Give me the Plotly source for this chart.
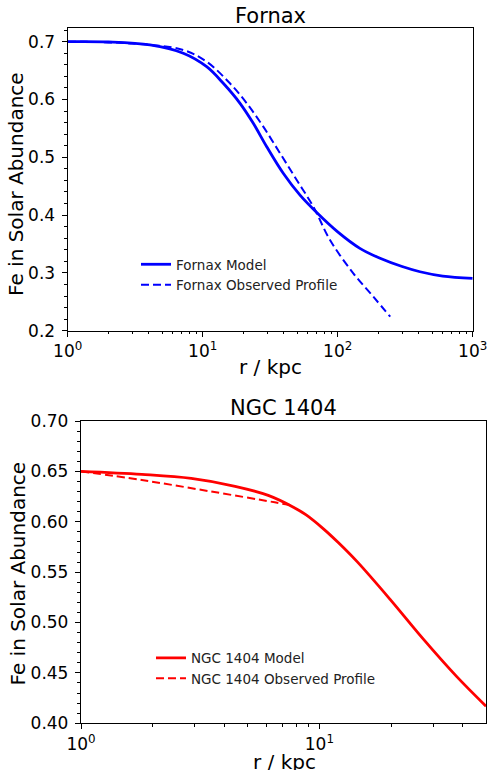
import plotly.graph_objects as go
import numpy as np

# ---- data ----
fornax_model_r = [1, 2, 4.07, 7.18, 10.7, 14.2, 18.9, 23.7, 29.8, 39.5, 52.6, 69.9, 100, 146, 206, 300, 407, 600, 1000]
fornax_model_v = [0.700, 0.6995, 0.6943, 0.680, 0.6567, 0.628, 0.5934, 0.5588, 0.5183, 0.4723, 0.4345, 0.4045, 0.371, 0.3425, 0.3253, 0.311, 0.302, 0.2945, 0.2906]

fornax_obs_r = [1, 3, 7.18, 10.7, 15.9, 21.2, 28.1, 37.4, 49.7, 66, 87.7, 130.5, 183.6, 245]
fornax_obs_v = [0.700, 0.697, 0.6856, 0.6654, 0.628, 0.5934, 0.553, 0.507, 0.4607, 0.4145, 0.3569, 0.2993, 0.2588, 0.2242]

ngc_model_r = [1, 1.8, 2.9, 4.43, 6.1, 7.78, 8.8, 10.4, 12, 14.4, 19.8, 27.3, 37.7, 50]
ngc_model_v = [0.650, 0.647, 0.643, 0.6352, 0.6262, 0.6145, 0.6068, 0.593, 0.5794, 0.5604, 0.523, 0.4835, 0.4463, 0.417]

ngc_obs_r = [1, 1.8, 3.42, 6.5, 7.78]
ngc_obs_v = [0.650, 0.6414, 0.6305, 0.6193, 0.616]

top_xticks = [1, 10, 100, 1000]
top_xtext = ["10<sup>0</sup>", "10<sup>1</sup>", "10<sup>2</sup>", "10<sup>3</sup>"]
bot_xticks = [1, 10]
bot_xtext = ["10<sup>0</sup>", "10<sup>1</sup>"]

W, H = 488, 770
FONT = "DejaVu Sans"
BLUE = "#0000ff"
RED = "#ff0000"

fig = go.Figure()
fig.add_trace(go.Scatter(x=fornax_model_r, y=fornax_model_v, mode="lines", line=dict(color=BLUE, width=2.8, shape="spline", smoothing=1.0),
                         name="Fornax Model", xaxis="x", yaxis="y", legend="legend"))
fig.add_trace(go.Scatter(x=fornax_obs_r, y=fornax_obs_v, mode="lines", line=dict(color=BLUE, width=2, dash="8px,4px", shape="spline", smoothing=1.0),
                         name="Fornax Observed Profile", xaxis="x", yaxis="y", legend="legend"))
fig.add_trace(go.Scatter(x=ngc_model_r, y=ngc_model_v, mode="lines", line=dict(color=RED, width=2.8, shape="spline", smoothing=1.0),
                         name="NGC 1404 Model", xaxis="x2", yaxis="y2", legend="legend2"))
fig.add_trace(go.Scatter(x=ngc_obs_r, y=ngc_obs_v, mode="lines", line=dict(color=RED, width=2, dash="8px,4px", shape="spline", smoothing=1.0),
                         name="NGC 1404 Observed Profile", xaxis="x2", yaxis="y2", legend="legend2"))

def px_x(p):
    return p / W

def px_y(p):
    return 1 - p / H

minor_log = [v * 10 ** d for d in range(0, 3) for v in range(2, 10)]

axis_common = dict(showline=True, linecolor="black", linewidth=1.3, mirror=True, ticks="outside",
                   ticklen=5, tickwidth=1.2, tickcolor="black", showgrid=False, zeroline=False,
                   automargin=False, tickfont=dict(family=FONT, size=17, color="black"))

fig.update_layout(
    width=W, height=H, margin=dict(l=0, r=0, t=0, b=0, autoexpand=False),
    paper_bgcolor="white", plot_bgcolor="white",
    font=dict(family=FONT, color="black"),
    xaxis=dict(type="log", domain=[px_x(67.7), px_x(472.7)], range=[0, 3], anchor="y",
               tickvals=top_xticks, ticktext=top_xtext,
               minor=dict(tickvals=minor_log, ticks="outside", ticklen=2.5, tickwidth=1, tickcolor="black"),
               **axis_common),
    yaxis=dict(domain=[px_y(330.7), px_y(28)], range=[0.2, 0.7237], anchor="x",
               tick0=0.2, dtick=0.1, tickformat=".1f", ticklabelstandoff=3,
               minor=dict(dtick=0.02, tick0=0.2, ticks="outside", ticklen=2.5, tickwidth=1, tickcolor="black"),
               **axis_common),
    xaxis2=dict(type="log", domain=[px_x(81), px_x(486)], range=[0, np.log10(50)], anchor="y2",
                tickvals=bot_xticks, ticktext=bot_xtext,
                minor=dict(tickvals=[v for v in minor_log if v < 50], ticks="outside", ticklen=2.5, tickwidth=1, tickcolor="black"),
                **axis_common),
    yaxis2=dict(domain=[px_y(723.3), px_y(421)], range=[0.40, 0.70], anchor="x2",
                tick0=0.4, dtick=0.05, tickformat=".2f", ticklabelstandoff=3,
                minor=dict(dtick=0.01, tick0=0.4, ticks="outside", ticklen=2.5, tickwidth=1, tickcolor="black"),
                **axis_common),
    legend=dict(x=px_x(136), y=px_y(249), xanchor="left", yanchor="top", bgcolor="rgba(0,0,0,0)",
                font=dict(family=FONT, size=13.5, color="#222"), tracegroupgap=0),
    legend2=dict(x=px_x(151), y=px_y(642.5), xanchor="left", yanchor="top", bgcolor="rgba(0,0,0,0)",
                 font=dict(family=FONT, size=13.5, color="#222"), tracegroupgap=0),
)

annots = [
    dict(text="Fornax", x=px_x(270), y=px_y(16), font=dict(size=21)),
    dict(text="NGC 1404", x=px_x(283.5), y=px_y(408), font=dict(size=21)),
    dict(text="r / kpc", x=px_x(270.5), y=px_y(367), font=dict(size=20)),
    dict(text="r / kpc", x=px_x(284), y=px_y(762), font=dict(size=20)),
    dict(text="Fe in Solar Abundance", x=px_x(16), y=px_y(184), font=dict(size=20), textangle=-90),
    dict(text="Fe in Solar Abundance", x=px_x(17.5), y=px_y(574), font=dict(size=20), textangle=-90),
]
for a in annots:
    fig.add_annotation(xref="paper", yref="paper", showarrow=False, xanchor="center", yanchor="middle",
                       **{k: v for k, v in a.items() if k != "font"},
                       font=dict(family=FONT, color="black", size=a["font"]["size"]))

fig.write_html("out.html")
